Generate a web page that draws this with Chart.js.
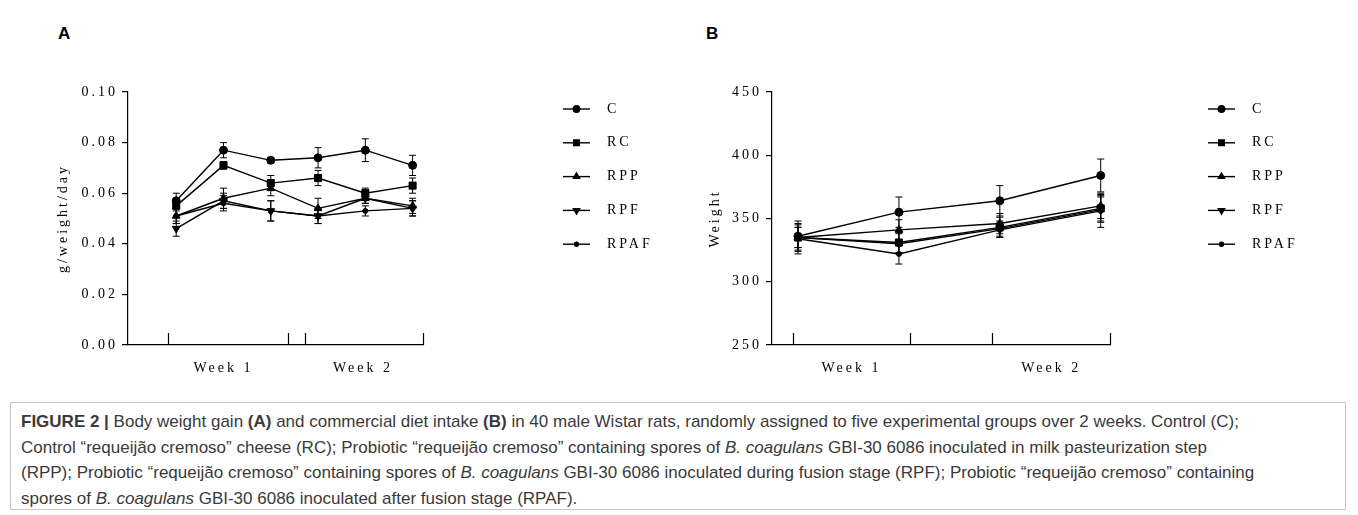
<!DOCTYPE html>
<html>
<head>
<meta charset="utf-8">
<script src="https://cdn.jsdelivr.net/npm/chart.js@4.4.1/dist/chart.umd.min.js"></script>
<style>
  body { margin: 0; width: 1358px; height: 515px; background: #fff; position: relative; overflow: hidden;
         font-family: "Liberation Sans", Arial, sans-serif; }
  .panel { position: absolute; top: 0; height: 400px; }
  #wrapA { left: 0; width: 680px; }
  #wrapB { left: 680px; width: 678px; }
  .tag { position: absolute; top: 24px; font-weight: bold; font-size: 17px; color: #000; }
  #caption { position: absolute; left: 10px; top: 402px; width: 1336px; height: 108px; border: 1px solid #c8c8c8;
             box-sizing: border-box; padding: 6px 0 0 10px; font-size: 17px; line-height: 25.5px; color: #3a3a3a;
             white-space: nowrap; }
</style>
</head>
<body>
<div class="tag" style="left:58px">A</div>
<div class="tag" style="left:706px">B</div>
<div id="wrapA" class="panel"><canvas id="chartA"></canvas></div>
<div id="wrapB" class="panel"><canvas id="chartB"></canvas></div>
<div id="caption">
<b>FIGURE 2 |</b> Body weight gain <b>(A)</b> and commercial diet intake <b>(B)</b> in 40 male Wistar rats, randomly assigned to five experimental groups over 2 weeks. Control (C);<br>
Control “requeijão cremoso” cheese (RC); Probiotic “requeijão cremoso” containing spores of <i>B. coagulans</i> GBI-30 6086 inoculated in milk pasteurization step<br>
(RPP); Probiotic “requeijão cremoso” containing spores of <i>B. coagulans</i> GBI-30 6086 inoculated during fusion stage (RPF); Probiotic “requeijão cremoso” containing<br>
spores of <i>B. coagulans</i> GBI-30 6086 inoculated after fusion stage (RPAF).
</div>
<script>
// groups and week labels
const groupNames = ['C', 'RC', 'RPP', 'RPF', 'RPAF'];
const weekLabels = ['Week 1', 'Week 2'];

// A - body weight gain (g/weight/day), 6 measurements (3 per week)
const gainC    = [0.057, 0.077, 0.073, 0.074, 0.077, 0.071];
const gainRC   = [0.055, 0.071, 0.064, 0.066, 0.060, 0.063];
const gainRPP  = [0.051, 0.058, 0.062, 0.054, 0.058, 0.055];
const gainRPF  = [0.046, 0.057, 0.053, 0.051, 0.058, 0.054];
const gainRPAF = [0.051, 0.056, 0.053, 0.051, 0.053, 0.054];
const gainErrC    = [0.003, 0.003, 0.001, 0.004, 0.0045, 0.004];
const gainErrRC   = [0.002, 0.0015, 0.003, 0.003, 0.002, 0.003];
const gainErrRPP  = [0.003, 0.004, 0.003, 0.004, 0.002, 0.003];
const gainErrRPF  = [0.003, 0.003, 0.004, 0.003, 0.002, 0.003];
const gainErrRPAF = [0.003, 0.003, 0.004, 0.003, 0.002, 0.003];
const gainTicks = [0, 0.02, 0.04, 0.06, 0.08, 0.10];

// B - weight (g), 4 measurements (2 per week)
const weightC    = [336, 355, 364, 384];
const weightRC   = [335, 331, 343, 358];
const weightRPP  = [335, 341, 346, 360];
const weightRPF  = [335, 330, 342, 357];
const weightRPAF = [334, 322, 341, 356];
const weightErrC    = [12, 12, 12, 13];
const weightErrRC   = [8, 8, 8, 10];
const weightErrRPP  = [10, 8, 8, 10];
const weightErrRPF  = [8, 8, 6, 10];
const weightErrRPAF = [12, 8, 6, 13];
const weightTicks = [250, 300, 350, 400, 450];

const ink = '#000';
const serif = "'Liberation Serif', 'Times New Roman', serif";
const markerStyle = ['circle', 'rect', 'triangle', 'triangle', 'circle'];
const markerRotation = [0, 0, 0, 180, 0];
const markerRadius = [4, 5, 4.5, 4.5, 2.5];

function makeDatasets(series, errs) {
  return groupNames.map((name, g) => ({
    label: name,
    data: series[g].map((v, i) => ({ x: i + 1, y: v })),
    err: errs[g],
    borderColor: ink,
    backgroundColor: ink,
    borderWidth: 1.4,
    pointStyle: markerStyle[g],
    pointRotation: markerRotation[g],
    pointRadius: markerRadius[g],
    pointHoverRadius: markerRadius[g],
    pointBorderWidth: 1,
    tension: 0
  }));
}

// error bars (mean +- error), drawn under the markers
const errorBars = {
  id: 'errorBars',
  beforeDatasetsDraw(chart) {
    const ctx = chart.ctx, ys = chart.scales.y;
    ctx.save();
    ctx.strokeStyle = ink;
    ctx.lineWidth = 1;
    chart.data.datasets.forEach((ds, d) => {
      chart.getDatasetMeta(d).data.forEach((pt, i) => {
        const v = ds.data[i].y, e = ds.err[i];
        const top = ys.getPixelForValue(v + e), bot = ys.getPixelForValue(v - e);
        ctx.beginPath();
        ctx.moveTo(pt.x, top); ctx.lineTo(pt.x, bot);
        ctx.moveTo(pt.x - 3.5, top); ctx.lineTo(pt.x + 3.5, top);
        ctx.moveTo(pt.x - 3.5, bot); ctx.lineTo(pt.x + 3.5, bot);
        ctx.stroke();
      });
    });
    ctx.restore();
  }
};

// short upward ticks on the x axis marking the span of each week
const weekBrackets = {
  id: 'weekBrackets',
  afterDraw(chart, args, opts) {
    const ctx = chart.ctx, xs = chart.scales.x, y0 = chart.chartArea.bottom;
    ctx.save();
    ctx.strokeStyle = ink;
    ctx.lineWidth = 1.2;
    opts.spans.forEach(span => span.forEach(v => {
      const px = Math.round(xs.getPixelForValue(v)) + 0.5;
      ctx.beginPath(); ctx.moveTo(px, y0); ctx.lineTo(px, y0 - 12); ctx.stroke();
    }));
    ctx.restore();
  }
};

// legend: line with marker + label, stacked at the right
const sideLegend = {
  id: 'sideLegend',
  afterDraw(chart, args, opts) {
    const ctx = chart.ctx;
    ctx.save();
    ctx.font = '14px ' + serif;
    ctx.fillStyle = ink;
    ctx.strokeStyle = ink;
    ctx.textBaseline = 'middle';
    ctx.letterSpacing = '3px';
    chart.data.datasets.forEach((ds, d) => {
      const y = opts.top + d * opts.gap;
      ctx.lineWidth = 1.4;
      ctx.beginPath(); ctx.moveTo(opts.x, y); ctx.lineTo(opts.x + 27, y); ctx.stroke();
      Chart.helpers.drawPoint(ctx, { pointStyle: ds.pointStyle, rotation: ds.pointRotation,
        radius: ds.pointRadius * 0.8, borderWidth: 1 }, opts.x + 13.5, y);
      ctx.fillText(ds.label, opts.x + 44, y);
    });
    ctx.restore();
  }
};

// widely spaced serif text as in the original export
const spacedText = {
  id: 'spacedText',
  beforeDraw(chart) { chart.ctx.letterSpacing = '3px'; }
};

function makeChart(id, cfg) {
  return new Chart(document.getElementById(id), {
    type: 'line',
    data: { datasets: makeDatasets(cfg.series, cfg.errs) },
    options: {
      responsive: true,
      maintainAspectRatio: false,
      animation: false,
      events: [],
      layout: { padding: { left: cfg.padLeft, top: 92, right: cfg.padRight, bottom: 0 } },
      scales: {
        x: {
          type: 'linear',
          min: cfg.xMin,
          max: cfg.xMax,
          afterFit: s => { s.height = 55; },
          afterBuildTicks: s => { s.ticks = cfg.weekCenters.map(v => ({ value: v })); },
          grid: { display: false },
          border: { color: ink, width: 1.2 },
          ticks: { autoSkip: false, maxRotation: 0, padding: 7, color: ink,
                   font: { family: serif, size: 14 },
                   callback: (v, i) => weekLabels[i] }
        },
        y: {
          min: cfg.yTicks[0],
          max: cfg.yTicks[cfg.yTicks.length - 1],
          afterFit: s => { s.width = cfg.yWidth; },
          afterBuildTicks: s => { s.ticks = cfg.yTicks.map(v => ({ value: v })); },
          grid: { drawOnChartArea: false, tickLength: 6, color: ink, lineWidth: 1.2 },
          border: { color: ink, width: 1.2 },
          ticks: { padding: 4, color: ink, font: { family: serif, size: 14 },
                   callback: v => cfg.fmt(v) },
          title: { display: true, text: cfg.yTitle, color: ink, padding: 0,
                   font: { family: serif, size: 14 } }
        }
      },
      plugins: {
        legend: { display: false },
        tooltip: { enabled: false },
        weekBrackets: { spans: cfg.spans },
        sideLegend: { x: cfg.legendX, top: 109, gap: 33.8 }
      }
    },
    plugins: [spacedText, errorBars, weekBrackets, sideLegend]
  });
}

makeChart('chartA', {
  series: [gainC, gainRC, gainRPP, gainRPF, gainRPAF],
  errs: [gainErrC, gainErrRC, gainErrRPP, gainErrRPF, gainErrRPAF],
  yTicks: gainTicks, fmt: v => v.toFixed(2), yTitle: 'g/weight/day',
  padLeft: 55, yWidth: 73, padRight: 257,
  xMin: -0.02, xMax: 6.22,
  weekCenters: [2.0, 4.95],
  spans: [[0.83, 3.37], [3.73, 6.22]],
  legendX: 563
});

makeChart('chartB', {
  series: [weightC, weightRC, weightRPP, weightRPF, weightRPAF],
  errs: [weightErrC, weightErrRC, weightErrRPP, weightErrRPF, weightErrRPAF],
  yTicks: weightTicks, fmt: v => String(v), yTitle: 'Weight',
  padLeft: 27, yWidth: 65, padRight: 248,
  xMin: 0.742, xMax: 4.092,
  weekCenters: [1.53, 3.51],
  spans: [[0.947, 2.11], [2.92, 4.09]],
  legendX: 528
});
</script>
</body>
</html>
